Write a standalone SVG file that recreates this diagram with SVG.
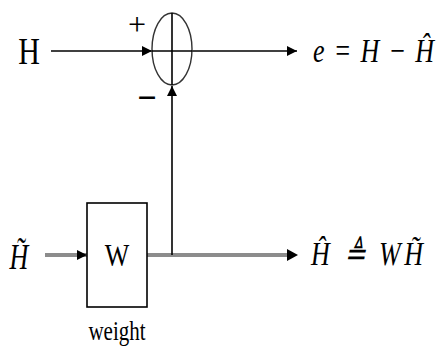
<svg xmlns="http://www.w3.org/2000/svg" width="442" height="350" viewBox="0 0 442 350">
<style>
text{fill:#000}
.i{font-style:italic}
.k{stroke:#000;stroke-width:1.6;fill:none}
.g{stroke:#8c8c8c;stroke-width:4;fill:none}
</style>
<defs>
<marker id="ah" viewBox="0 0 10 10" refX="10" refY="5" markerWidth="10" markerHeight="10" markerUnits="userSpaceOnUse" orient="auto">
<path d="M0,0 L10,5 L0,10 Z" fill="#000"/>
</marker>
</defs>
<rect width="442" height="350" fill="#fff"/>
<g id="connectors">
<line class="k" x1="51" y1="51" x2="152" y2="51" marker-end="url(#ah)"/>
<line class="k" x1="192" y1="51" x2="297" y2="51" marker-end="url(#ah)"/>
<line class="g" x1="45" y1="255" x2="87" y2="255"/>
<path d="M77,250 L87,255 L77,260 Z" fill="#000"/>
<line class="g" x1="147" y1="255" x2="287" y2="255"/>
<path d="M287,249 L298,255 L287,261 Z" fill="#000"/>
<line class="k" x1="172" y1="255" x2="172" y2="86" marker-end="url(#ah)" stroke="#222"/>
</g>
<g font-family="Liberation Serif, Times New Roman, serif">
<g id="sum">
<ellipse cx="172" cy="49" rx="20" ry="36" fill="none" stroke="#333" stroke-width="1.4"/>
<line class="k" x1="172" y1="13" x2="172" y2="85"/>
<line class="k" x1="152" y1="51" x2="192" y2="51"/>
<text x="137" y="35" font-size="32" text-anchor="middle">+</text>
<text x="147" y="109" font-size="34" font-weight="bold" text-anchor="middle">−</text>
</g>
<g id="input-H">
<text transform="translate(29,64) scale(1,1.25)" font-size="30" text-anchor="middle">H</text>
</g>
<g id="input-Htilde">
<text class="i" transform="translate(19,269) scale(1,1.4)" font-size="26" text-anchor="middle">H̃</text>
</g>
<g id="weight">
<rect x="87" y="203" width="60" height="104" fill="#fff" stroke="#000" stroke-width="1.6"/>
<text transform="translate(117,266) scale(1,1.2)" font-size="26" text-anchor="middle">W</text>
<text transform="translate(117,340) scale(1,1.25)" font-size="21" text-anchor="middle">weight</text>
</g>
<g id="output-e">
<text class="i" transform="translate(313,62) scale(1,1.3)" font-size="26" textLength="121" lengthAdjust="spacing">e = H − Ĥ</text>
</g>
<g id="output-Hhat">
<text class="i" transform="translate(311,265) scale(1,1.3)" font-size="26" textLength="112" lengthAdjust="spacing">Ĥ ≜ WH̃</text>
</g>
</g>
</svg>
